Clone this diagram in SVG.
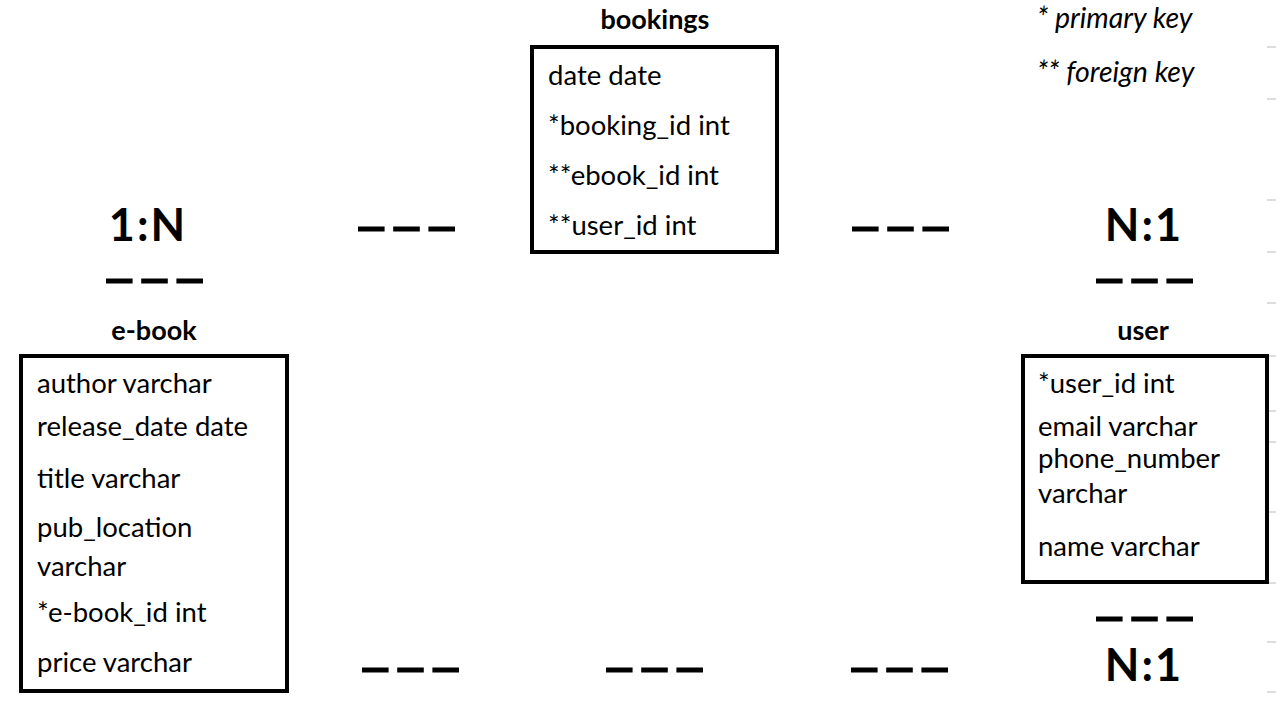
<svg xmlns="http://www.w3.org/2000/svg" width="1276" height="704" viewBox="0 0 1276 704">
<style>
.t{font-family:Lato,"Open Sans",sans-serif;font-size:27.5px;fill:#000}
.h{font-family:Lato,"Open Sans",sans-serif;font-size:27px;font-weight:bold;fill:#000;text-anchor:middle}
.r{font-family:Lato,"Open Sans",sans-serif;font-size:45px;font-weight:bold;fill:#000;text-anchor:middle;letter-spacing:2px}
.l{font-family:Lato,"Open Sans",sans-serif;font-size:28.5px;font-style:italic;fill:#000}
.box{fill:#fff;stroke:#000;stroke-width:4}
.d{stroke:#000;stroke-width:5;stroke-dasharray:26.6 8.6;fill:none}
.tick{stroke:#bbb;stroke-width:1}
</style>
<rect width="1276" height="704" fill="#fff"/>
<g id="ticks">
<line class="tick" x1="1267" y1="47" x2="1276" y2="47"/>
<line class="tick" x1="1267" y1="99" x2="1276" y2="99"/>
<line class="tick" x1="1267" y1="200" x2="1276" y2="200"/>
<line class="tick" x1="1267" y1="252" x2="1276" y2="252"/>
<line class="tick" x1="1267" y1="303" x2="1276" y2="303"/>
<line class="tick" x1="1267" y1="356" x2="1276" y2="356"/>
<line class="tick" x1="1267" y1="411" x2="1276" y2="411"/>
<line class="tick" x1="1267" y1="442" x2="1276" y2="442"/>
<line class="tick" x1="1267" y1="512" x2="1276" y2="512"/>
<line class="tick" x1="1267" y1="583" x2="1276" y2="583"/>
<line class="tick" x1="1267" y1="642" x2="1276" y2="642"/>
<line class="tick" x1="1267" y1="692" x2="1276" y2="692"/>
</g>
<g id="legend">
<text class="l" x="1037" y="28">* primary key</text>
<text class="l" x="1037" y="82">** foreign key</text>
</g>
<g id="bookings">
<text class="h" x="655" y="29">bookings</text>
<rect class="box" x="532" y="47" width="245" height="205"/>
<text class="t" x="548" y="85">date date</text>
<text class="t" x="548" y="135">*booking_id int</text>
<text class="t" x="548" y="185">**ebook_id int</text>
<text class="t" x="548" y="235">**user_id int</text>
</g>
<g id="ebook">
<text class="h" x="154" y="340">e-book</text>
<rect class="box" x="21" y="356" width="266" height="335"/>
<text class="t" x="37" y="393">author varchar</text>
<text class="t" x="37" y="436">release_date date</text>
<text class="t" x="37" y="488">title varchar</text>
<text class="t" x="37" y="537">pub_location</text>
<text class="t" x="37" y="576">varchar</text>
<text class="t" x="37" y="622">*e-book_id int</text>
<text class="t" x="37" y="672">price varchar</text>
</g>
<g id="user">
<text class="h" x="1143" y="340">user</text>
<rect class="box" x="1023" y="356" width="244" height="226"/>
<text class="t" x="1038" y="393">*user_id int</text>
<text class="t" x="1038" y="436">email varchar</text>
<text class="t" x="1038" y="468">phone_number</text>
<text class="t" x="1038" y="503">varchar</text>
<text class="t" x="1038" y="556">name varchar</text>
</g>
<g id="connectors">
<text class="r" x="148" y="241">1:N</text>
<text class="r" x="1144" y="241">N:1</text>
<text class="r" x="1144" y="681">N:1</text>
<line class="d" x1="358" y1="229" x2="456" y2="229"/>
<line class="d" x1="852" y1="229" x2="950" y2="229"/>
<line class="d" x1="106" y1="281" x2="204" y2="281"/>
<line class="d" x1="1096" y1="281" x2="1194" y2="281"/>
<line class="d" x1="1096" y1="619" x2="1194" y2="619"/>
<line class="d" x1="362" y1="670" x2="460" y2="670"/>
<line class="d" x1="606" y1="670" x2="704" y2="670"/>
<line class="d" x1="851" y1="670" x2="949" y2="670"/>
</g>
</svg>
